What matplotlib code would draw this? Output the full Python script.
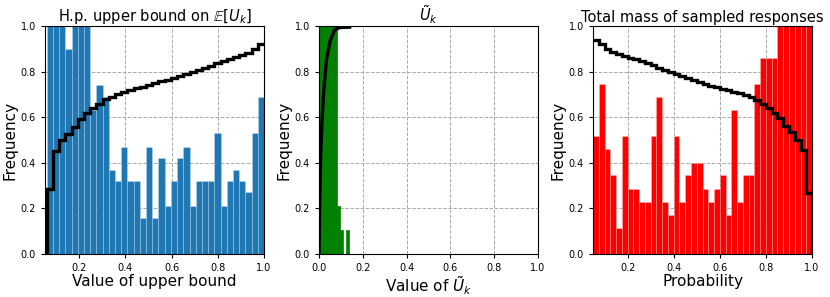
import numpy as np
import matplotlib
matplotlib.use("Agg")
import matplotlib.pyplot as plt

# panel 1: h.p. upper bound on E[U_k]  (35 bins)
ub_lo, ub_hi = 0.0603, 1.0
ub_freq = [1.0, 1.0, 1.0, 0.9, 1.0, 1.0, 1.0, 0.63, 0.74, 0.69,
           0.37, 0.32, 0.47, 0.32, 0.32, 0.16, 0.47, 0.16, 0.42, 0.21,
           0.32, 0.42, 0.47, 0.21, 0.32, 0.32, 0.32, 0.53, 0.21, 0.32,
           0.37, 0.32, 0.27, 0.53, 0.69]
ub_cdf = [0.284, 0.453, 0.50, 0.525, 0.555, 0.592, 0.617, 0.639, 0.658, 0.68,
          0.69, 0.702, 0.712, 0.719, 0.727, 0.734, 0.741, 0.748, 0.759, 0.763,
          0.77, 0.782, 0.789, 0.797, 0.807, 0.817, 0.826, 0.836, 0.846, 0.855,
          0.862, 0.872, 0.88, 0.899, 0.92]

# panel 2: U tilde  (10 bins)
ut_lo, ut_hi = 0.0, 0.135
ut_freq = [1.0, 1.0, 1.0, 1.0, 1.0, 1.0, 0.21, 0.105, 0.0, 0.105]
ut_cdf_x = [0.0, 0.003, 0.008, 0.014, 0.023, 0.034, 0.052, 0.071, 0.094, 0.14]
ut_cdf_y = [0.0, 0.207, 0.443, 0.588, 0.734, 0.851, 0.939, 0.982, 0.993, 0.995]

# panel 3: total mass of sampled responses  (38 bins)
tm_lo, tm_hi = 0.05, 1.0
tm_freq = [0.517, 0.745, 0.459, 0.345, 0.115, 0.517, 0.287, 0.287, 0.23, 0.23,
           0.517, 0.689, 0.23, 0.171, 0.517, 0.23, 0.345, 0.40, 0.40, 0.287,
           0.23, 0.287, 0.345, 0.171, 0.632, 0.23, 0.345, 0.345, 0.745, 0.86,
           0.86, 0.86, 1.0, 1.0, 1.0, 1.0, 1.0, 1.0]
tm_cdf = [0.939, 0.92, 0.899, 0.887, 0.877, 0.87, 0.861, 0.854, 0.846, 0.836,
          0.829, 0.817, 0.807, 0.80, 0.79, 0.782, 0.773, 0.763, 0.753, 0.744,
          0.738, 0.734, 0.724, 0.719, 0.712, 0.705, 0.697, 0.69, 0.676, 0.658,
          0.639, 0.617, 0.595, 0.563, 0.534, 0.50, 0.456, 0.266]

ticks = [0.2, 0.4, 0.6, 0.8, 1.0]
ticks_full = [0.0, 0.2, 0.4, 0.6, 0.8, 1.0]


def style(ax, xlim, xticks, title, xlabel):
    ax.set_xlim(*xlim)
    ax.set_ylim(0, 1)
    ax.set_xticks(xticks)
    ax.set_yticks(ticks_full)
    ax.tick_params(labelsize=7, length=3, width=0.8)
    ax.grid(True, ls='--', color='#aaaaaa', lw=0.7)
    ax.set_axisbelow(True)
    ax.set_title(title, fontsize=10.5, pad=3)
    ax.set_xlabel(xlabel, fontsize=11, labelpad=1)
    ax.set_ylabel("Frequency", fontsize=11, labelpad=2)


def bars(ax, lo, hi, freq, color, edge=True):
    edges = np.linspace(lo, hi, len(freq) + 1)
    ec = (1, 1, 1, 0.3) if edge else color
    ax.bar(edges[:-1], freq, width=np.diff(edges), align='edge',
           color=color, edgecolor=ec, linewidth=0.5)
    return edges


fig = plt.figure(figsize=(8.3, 2.97), dpi=100)
w, h, b = 0.2639, 0.7677, 0.1448

ax1 = fig.add_axes([0.0542, b, w, h])
e1 = bars(ax1, ub_lo, ub_hi, ub_freq, '#1f77b4')
ax1.stairs(ub_cdf, e1, baseline=None, color='k', lw=2.4)
ax1.plot([e1[0], e1[0]], [0, ub_cdf[0]], color='k', lw=2.4)
style(ax1, (0.053, 1.0), ticks, r"H.p. upper bound on $\mathbb{E}[U_k]$",
      "Value of upper bound")

ax2 = fig.add_axes([0.3843, b, w, h])
bars(ax2, ut_lo, ut_hi, ut_freq, 'green', edge=False)
ax2.plot(ut_cdf_x, ut_cdf_y, color='k', lw=2.4)
style(ax2, (0.0, 1.0), ticks_full, r"$\tilde{U}_k$", r"Value of $\tilde{U}_k$")

ax3 = fig.add_axes([0.7145, b, w, h])
e3 = bars(ax3, tm_lo, tm_hi, tm_freq, 'red')
ax3.stairs(tm_cdf, e3, baseline=None, color='k', lw=2.4)
ax3.plot([e3[-1], e3[-1]], [0, tm_cdf[-1]], color='k', lw=2.4)
style(ax3, (0.05, 1.0), ticks, "Total mass of sampled responses", "Probability")

fig.savefig("out.png", dpi=100)
